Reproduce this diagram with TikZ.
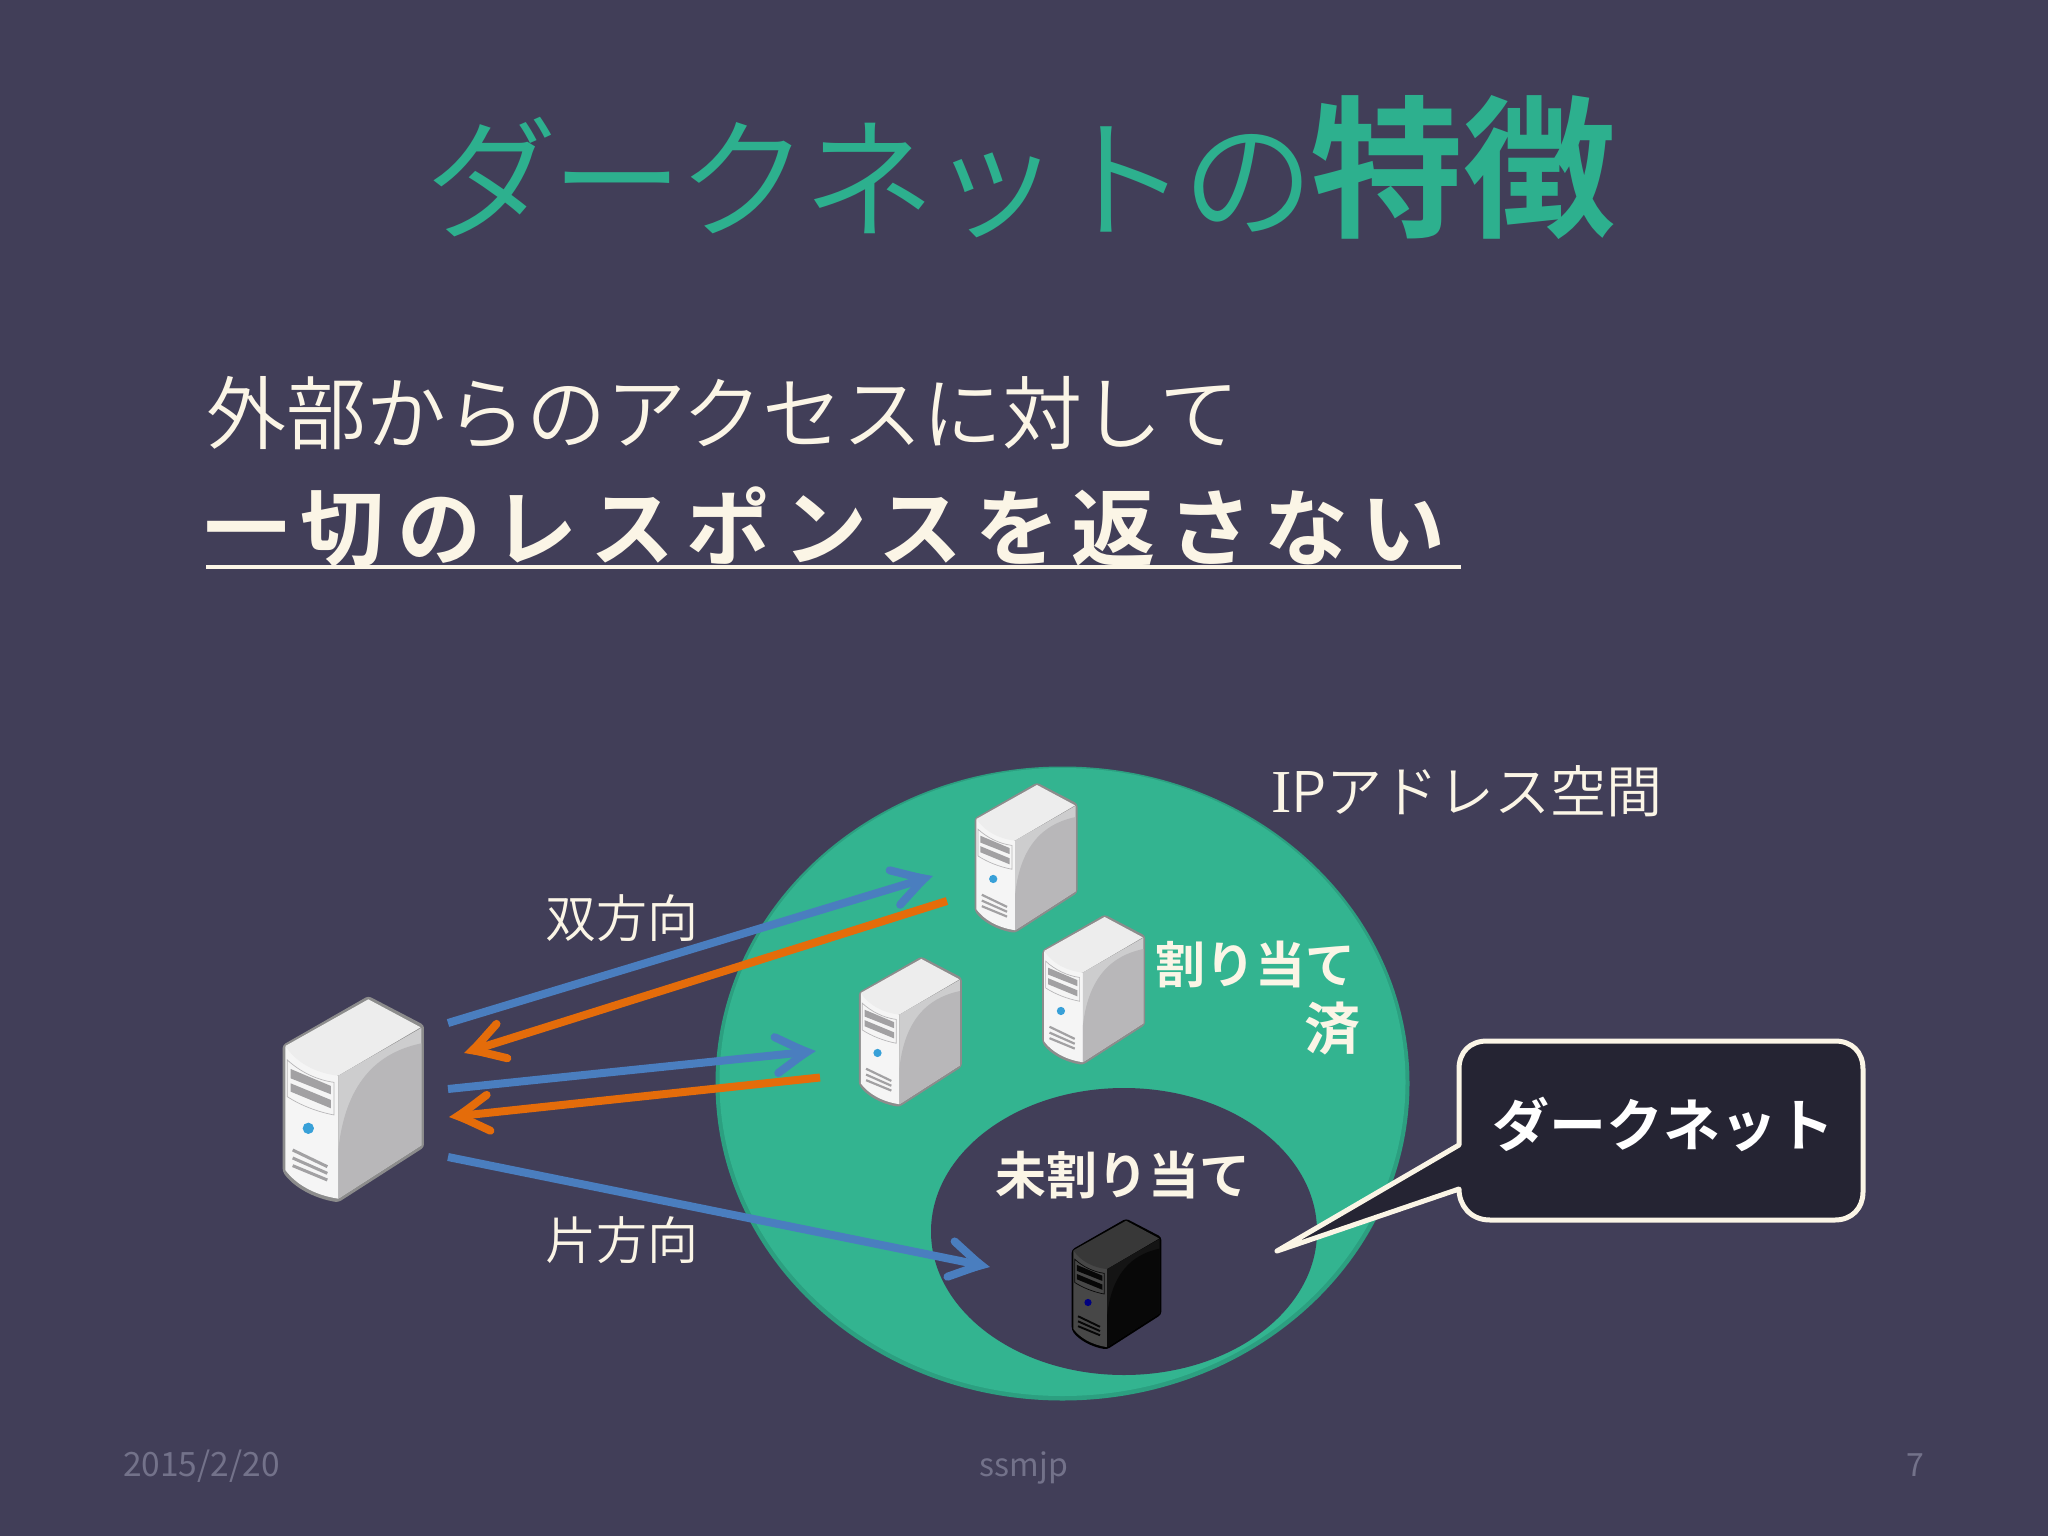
\documentclass[tikz,border=0pt]{standalone}
\usepackage{fontspec}
\usetikzlibrary{arrows.meta,shapes.geometric}
\setmainfont{Noto Sans CJK JP}
\newfontfamily\lightjp{Noto Sans CJK JP DemiLight}
\newfontfamily\titlejp[LetterSpace=-4.4]{Noto Sans CJK JP DemiLight}
\newfontfamily\boldjp{Noto Sans CJK JP Bold}
\newfontfamily\spacedjp[LetterSpace=15]{Noto Sans CJK JP Bold}
\newfontfamily\serifI{Liberation Serif}
\definecolor{bgc}{HTML}{413E58}
\definecolor{teal}{HTML}{2DB08E}
\definecolor{tealfill}{HTML}{33B490}
\definecolor{tealedge}{HTML}{2C9F80}
\definecolor{cream}{HTML}{FBF5E6}
\definecolor{bluec}{HTML}{4A7EBF}
\definecolor{orangec}{HTML}{E46C0A}
\definecolor{calloutc}{HTML}{252433}
\definecolor{footc}{HTML}{73728A}
\definecolor{srvblue}{HTML}{38A0D8}
\definecolor{srvsidel}{HTML}{CDCDCE}
\definecolor{srvsided}{HTML}{B8B7B9}
\definecolor{srvdarkd}{HTML}{080808}
% x0 y0 scale outline top front sideLight sideDark bar button
\newcommand{\srvdraw}[9]{%
\begin{scope}[shift={(#1,#2)},x=#3pt,y=-#3pt]
\def\srvbtn{#9}
\fill[#4,rounded corners=3pt] (98,285) -- (355,138) -- (522,225) -- (522,592) -- (265,757) .. controls (190,745) and (130,710) .. (98,665) -- cycle;
\fill[#6] (106,290) -- (265,378) -- (265,746) .. controls (190,735) and (135,700) .. (106,660) -- cycle;
\fill[#5] (106,288) -- (355,148) -- (512,232) -- (265,377) .. controls (200,370) and (140,340) .. (106,288) -- cycle;
\fill[#7] (265,377) -- (514,234) -- (514,586) -- (265,746) -- cycle;
\fill[#8] (514,280) .. controls (420,300) and (290,360) .. (265,600) -- (265,746) -- (514,586) -- cycle;
\draw[#8,line width=.7pt] (112,330) .. controls (150,365) and (200,390) .. (252,397) -- (252,495) .. controls (200,485) and (150,465) .. (112,440) -- cycle;
\fill[#8!88!black] (122,357) -- (243,408) -- (243,433) -- (122,385) -- cycle;
\fill[#8!88!black] (122,400) -- (243,450) -- (243,475) -- (122,425) -- cycle;
\draw[#8!88!black,line width=#3*9pt] (128,600) -- (232,650) (128,624) -- (232,670) (128,647) -- (232,690);
\fill[\srvbtn] (175,535) circle[radius=17];
\end{scope}}
\tikzset{
  txt/.style={inner sep=0pt,outer sep=0pt,text=cream},
  flow/.style={line width=8pt,-{Straight Barb[length=30pt,width=36pt,line width=8pt,line cap=round,line join=miter,sep=-20pt]Stealth[length=22pt,width=22pt,inset=9pt,sep=0pt]}},
  flowblue/.style={flow,draw=bluec},
  floworange/.style={flow,draw=orangec},
  foot/.style={inner sep=0pt,text=footc,font=\fontsize{32}{36}\selectfont},
}
\begin{document}
\begin{tikzpicture}[x=1pt,y=-1pt]
\useasboundingbox (0,0) rectangle (2048,1536);
\fill[bgc] (0,0) rectangle (2048,1536);
% title
\node[anchor=base west,inner sep=0pt,text=teal,font=\titlejp\fontsize{132}{136}\selectfont] (t1) at (425,228) {ダークネットの};
\node[anchor=base west,inner sep=0pt,text=teal,font=\boldjp\fontsize{153}{160}\selectfont] (t2) at (1310,225) {特徴};
% body
\node[txt,anchor=base west,font=\lightjp\fontsize{80}{84}\selectfont] (l1) at (206,443) {外部からのアクセスに対して};
\node[txt,anchor=base west,font=\spacedjp\fontsize{84}{88}\selectfont] (l2) at (204,559) {一切のレスポンスを返さない};
\coordinate (ula) at (206,567); \coordinate (ulb) at (1461,567);
\draw[cream,line width=3.5pt] (ula) -- (ulb);
% address space
\fill[tealedge] (1062.5,1083.5) ellipse[x radius=347pt,y radius=317pt];
\fill[tealfill] (1062.5,1082) ellipse[x radius=343pt,y radius=314pt];
\fill[bgc] (1124,1231.5) ellipse[x radius=193pt,y radius=143.5pt];
\srvdraw{950.7}{749}{.2429}{black!45}{white!93!black}{white!96!black}{srvsidel}{srvsided}{srvblue};
\srvdraw{1018.4}{881}{.2429}{black!45}{white!93!black}{white!96!black}{srvsidel}{srvsided}{srvblue};
\srvdraw{835}{923}{.2429}{black!45}{white!93!black}{white!96!black}{srvsidel}{srvsided}{srvblue};
\srvdraw{250}{950}{.3333}{black!45}{white!93!black}{white!96!black}{srvsidel}{srvsided}{srvblue};
\srvdraw{1051}{1189.4}{.2114}{black}{black!78}{black!72}{black!92}{srvdarkd}{blue!50!black};
% labels
\node[txt,anchor=base west,font=\lightjp\fontsize{56}{60}\selectfont] (ip) at (1271,812) {{\serifI\fontsize{61}{60}\selectfont I}Pアドレス空間};
\node[txt,anchor=base west,font=\lightjp\fontsize{51}{55}\selectfont] (both) at (545,937) {双方向};
\node[txt,anchor=base west,font=\lightjp\fontsize{51}{55}\selectfont] (one) at (545,1259) {片方向};
\node[txt,anchor=base west,font=\boldjp\fontsize{50}{55}\selectfont] (as1) at (1155,983) {割り当て};
\node[txt,anchor=base east,font=\boldjp\fontsize{56}{60}\selectfont] (as2) at (1360,1049) {済};
\node[txt,anchor=base,font=\boldjp\fontsize{51}{55}\selectfont] (un) at (1123,1194) {未割り当て};
% arrows
\coordinate (a1s) at (448,1023); \coordinate (a1e) at (933,876);
\coordinate (a2s) at (947,901);  \coordinate (a2e) at (464,1053);
\coordinate (a3s) at (448,1089); \coordinate (a3e) at (816,1051);
\coordinate (a4s) at (820,1077.5); \coordinate (a4e) at (449,1117);
\coordinate (a5s) at (448,1157); \coordinate (a5e) at (990,1267);
\draw[flowblue] (a1s) -- (a1e);
\draw[floworange] (a2s) -- (a2e);
\draw[flowblue] (a3s) -- (a3e);
\draw[floworange] (a4s) -- (a4e);
\draw[flowblue] (a5s) -- (a5e);
% callout
\draw[cream,fill=calloutc,line width=5pt,line join=round] (1459,1145) -- (1277,1251) -- (1459,1189)
  .. controls (1459,1205) and (1470,1220) .. (1490,1220) -- (1835,1220)
  .. controls (1852,1220) and (1863,1208) .. (1863,1192) -- (1863,1069)
  .. controls (1863,1052) and (1852,1041) .. (1835,1041) -- (1487,1041)
  .. controls (1470,1041) and (1459,1052) .. (1459,1069) -- cycle;
\node[anchor=base west,inner sep=0pt,text=white,font=\boldjp\fontsize{57}{62}\selectfont] (dn) at (1492,1146) {ダークネット};
% footer
\node[foot,anchor=base west,font=\fontsize{33.5}{36}\selectfont] (fd) at (123,1476) {2015/2/20};
\node[foot,anchor=base] (fm) at (1024,1476) {ssmjp};
\node[foot,anchor=base east] (fp) at (1924,1476) {7};
\end{tikzpicture}
\end{document}
